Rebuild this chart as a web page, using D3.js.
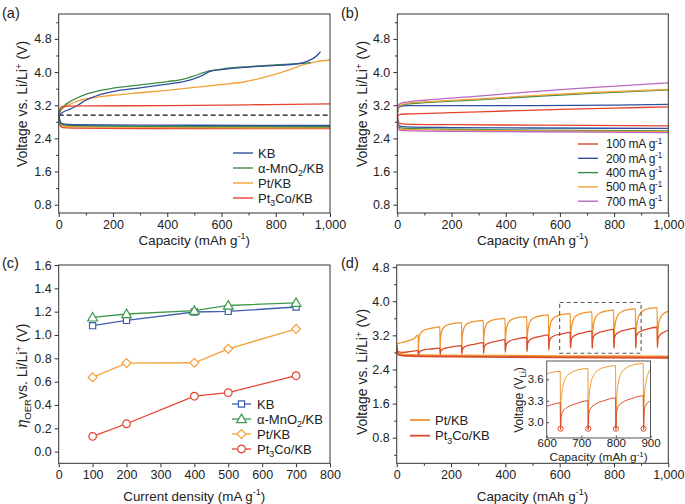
<!DOCTYPE html>
<html><head><meta charset="utf-8">
<script src="https://cdn.jsdelivr.net/npm/d3@7"></script>
<style>
body{margin:0;background:#fff}
svg text{font-family:"Liberation Sans",Arial,Helvetica,sans-serif;fill:#222}
</style>
</head><body>
<svg id="fig" width="685" height="504"></svg>
<script>
// ---------------- DATA ----------------
const capTicks=[0,200,400,600,800,1000];
const capMinor=[100,300,500,700,900];
const voltTicks=[0.8,1.6,2.4,3.2,4.0,4.8];
const voltMinorA=[1.2,2.0,2.8,3.6,4.4,5.2];
const voltMinorD=[0.4,1.2,2.0,2.8,3.6,4.4];
const etaTicks=[0,0.2,0.4,0.6,0.8,1.0,1.2,1.4,1.6];
const currentTicks=[0,100,200,300,400,500,600,700,800];
const insetXTicks=[600,700,800,900];
const insetYTicks=[3.0,3.3,3.6];

// panel (a)
const aLabels=["KB","α-MnO_{2}/KB","Pt/KB","Pt_{3}Co/KB"];
const aKBCharge=[[0,2.92],[5,2.97],[15,3.03],[40,3.1],[70,3.2],[100,3.32],[150,3.45],[200,3.53],[300,3.62],[400,3.71],[460,3.77],[500,3.84],[530,3.92],[560,4.02],[600,4.06],[700,4.12],[800,4.16],[880,4.2],[920,4.27],[945,4.36],[965,4.49]];
const aKBDischarge=[[0,3.02],[2,2.9],[6,2.8],[15,2.75],[50,2.73],[300,2.72],[1000,2.71]];
const aMnCharge=[[0,2.95],[5,3.05],[15,3.15],[40,3.28],[70,3.38],[100,3.46],[150,3.55],[200,3.61],[300,3.69],[400,3.77],[460,3.83],[500,3.91],[540,4.0],[570,4.04],[600,4.07],[700,4.13],[800,4.17],[900,4.21],[930,4.23]];
const aMnDischarge=[[0,3.0],[2,2.88],[6,2.78],[15,2.73],[50,2.71],[300,2.69],[1000,2.68]];
const aPtCharge=[[0,2.95],[5,3.05],[15,3.12],[40,3.22],[70,3.3],[100,3.35],[150,3.4],[200,3.44],[300,3.5],[400,3.56],[500,3.63],[600,3.7],[680,3.76],[750,3.86],[800,3.95],[850,4.05],[900,4.17],[950,4.25],[1000,4.29]];
const aPtDischarge=[[0,3.0],[2,2.85],[6,2.75],[15,2.7],[50,2.68],[300,2.665],[1000,2.655]];
const aPtCoCharge=[[0,2.95],[3,3.08],[8,3.15],[20,3.18],[100,3.185],[400,3.19],[700,3.21],[1000,3.23]];
const aPtCoDischarge=[[0,3.0],[2,2.8],[6,2.7],[15,2.66],[50,2.65],[300,2.64],[1000,2.64]];
const aRefVoltage=2.96;

// panel (b)
const bLabels=["100 mA g^{-1}","200 mA g^{-1}","400 mA g^{-1}","500 mA g^{-1}","700 mA g^{-1}"];
const b100Charge=[[0,2.9],[3,2.95],[10,2.98],[50,2.99],[200,3.02],[400,3.06],[600,3.1],[800,3.13],[1000,3.16]];
const b100Discharge=[[0,3.0],[2,2.85],[8,2.77],[30,2.745],[200,2.73],[500,2.72],[1000,2.70]];
const b200Charge=[[0,2.95],[3,3.1],[10,3.17],[40,3.19],[200,3.19],[500,3.19],[800,3.2],[1000,3.22]];
const b200Discharge=[[0,3.0],[2,2.8],[8,2.7],[30,2.675],[200,2.66],[500,2.65],[1000,2.64]];
const b400Charge=[[0,3.0],[3,3.12],[10,3.18],[40,3.23],[100,3.26],[300,3.33],[500,3.41],[700,3.48],[1000,3.57]];
const b400Discharge=[[0,3.0],[2,2.75],[8,2.66],[30,2.64],[200,2.62],[500,2.6],[1000,2.58]];
const b500Charge=[[0,3.0],[3,3.13],[10,3.2],[40,3.25],[100,3.28],[300,3.35],[500,3.43],[700,3.5],[1000,3.58]];
const b500Discharge=[[0,3.0],[2,2.72],[8,2.63],[30,2.615],[200,2.6],[500,2.58],[1000,2.56]];
const b700Charge=[[0,3.05],[3,3.17],[10,3.24],[40,3.28],[100,3.32],[300,3.42],[500,3.53],[700,3.62],[1000,3.74]];
const b700Discharge=[[0,3.0],[2,2.7],[8,2.6],[30,2.585],[200,2.57],[500,2.56],[1000,2.54]];

// panel (c)
const cCurrent=[100,200,400,500,700];
const cKB=[1.08,1.125,1.197,1.202,1.24];
const cMn=[1.151,1.18,1.208,1.253,1.276];
const cPt=[0.637,0.759,0.762,0.881,1.052];
const cPtCo=[0.131,0.239,0.475,0.506,0.651];

// panel (d)
const dLabels=["Pt/KB","Pt_{3}Co/KB"];
const dPtCharge=[[0,3.0],[10,3.02],[30,3.05],[50,3.09],[65,3.13],[79,3.21],[80,2.78],
[81,3.05],[83,3.15],[87,3.24],[95,3.3],[110,3.34],[130,3.37],[159,3.40],[160,2.8],
[161,3.1],[163,3.22],[167,3.32],[175,3.4],[190,3.45],[210,3.48],[239,3.50],[240,2.82],
[241,3.12],[243,3.25],[247,3.36],[255,3.45],[270,3.5],[290,3.53],[319,3.55],[320,2.84],
[321,3.15],[323,3.28],[327,3.4],[335,3.5],[350,3.55],[370,3.58],[399,3.60],[400,2.85],
[401,3.15],[403,3.3],[407,3.43],[415,3.53],[430,3.59],[450,3.62],[479,3.64],[480,2.86],
[481,3.17],[483,3.32],[487,3.46],[495,3.56],[510,3.62],[530,3.66],[559,3.68],[560,2.88],
[561,3.18],[563,3.34],[567,3.48],[575,3.59],[590,3.65],[610,3.69],[639,3.71],[640,2.9],
[641,3.2],[643,3.36],[647,3.5],[655,3.62],[670,3.69],[690,3.73],[719,3.75],[720,2.9],
[721,3.2],[723,3.38],[727,3.53],[735,3.65],[750,3.73],[770,3.77],[799,3.79],[800,2.9],
[801,3.2],[803,3.4],[807,3.55],[815,3.68],[830,3.76],[850,3.8],[879,3.82],[880,2.9],
[881,3.2],[883,3.4],[887,3.56],[895,3.7],[910,3.79],[930,3.83],[959,3.85],[960,2.92],
[961,3.2],[963,3.4],[967,3.55],[975,3.66],[990,3.74],[1000,3.77]];
const dPtCoCharge=[[0,2.83],[20,2.8],[40,2.81],[60,2.83],[79,2.85],[80,2.74],
[82,2.79],[88,2.83],[100,2.86],[125,2.88],[159,2.9],[160,2.75],
[162,2.82],[168,2.87],[180,2.9],[205,2.93],[239,2.96],[240,2.76],
[242,2.86],[248,2.92],[260,2.96],[285,2.99],[319,3.03],[320,2.78],
[322,2.92],[328,2.98],[340,3.02],[365,3.06],[399,3.10],[400,2.8],
[402,2.96],[408,3.03],[420,3.08],[445,3.12],[479,3.15],[480,2.82],
[482,3.0],[488,3.08],[500,3.13],[525,3.17],[559,3.21],[560,2.86],
[562,3.05],[568,3.14],[580,3.19],[605,3.23],[639,3.27],[640,2.9],
[642,3.08],[648,3.16],[660,3.21],[685,3.26],[719,3.3],[720,2.9],
[722,3.12],[728,3.2],[740,3.25],[765,3.3],[799,3.34],[800,2.9],
[802,3.15],[808,3.23],[820,3.28],[845,3.33],[879,3.37],[880,2.9],
[882,3.17],[888,3.25],[900,3.3],[925,3.35],[959,3.39],[960,2.92],
[962,3.12],[968,3.2],[980,3.26],[1000,3.32]];
const dPtDischarge=[[0,3.0],[2,2.85],[8,2.78],[30,2.75],[200,2.73],[600,2.715],[1000,2.705]];
const dPtCoDischarge=[[0,2.95],[2,2.8],[8,2.74],[30,2.72],[200,2.7],[600,2.685],[1000,2.675]];
const dZoomBox=[600,900,2.78,3.97];
const dInsetDips=[[640,2.91],[720,2.91],[800,2.91],[880,2.91]];

// ---------------- STYLE ----------------
const C={blue:"#2f4f9f",green:"#3b8c47",orange:"#f2a23a",red:"#e4432e",purple:"#b968c2",
  dOrange:"#ef9630",dRed:"#dc4a2c",
  cBlue:"#3e5fae",cGreen:"#3d9a4b",cOrange:"#f5a23c",cRed:"#e6432f"};
const TICK_FS=12.5, TITLE_FS=13.4, LEG_FS=13;

const svg=d3.select("#fig");

// rich text: _{sub} ^{sup} *{italic}
function rich(sel,str,fs){
  const parts=str.split(/(_\{[^}]*\}|\^\{[^}]*\}|\*\{[^}]*\})/).filter(s=>s.length);
  let shift=0;
  parts.forEach(p=>{
    let t=p,target=0,small=false,it=false;
    if(p.startsWith("_{")){t=p.slice(2,-1);target=fs*0.28;small=true;}
    else if(p.startsWith("^{")){t=p.slice(2,-1);target=-fs*0.38;small=true;}
    else if(p.startsWith("*{")){t=p.slice(2,-1);it=true;}
    const ts=sel.append("tspan").attr("dy",target-shift).text(t);
    if(small) ts.attr("font-size",fs*0.68);
    if(it) ts.attr("font-style","italic").attr("font-family","DejaVu Serif, serif").attr("font-size",fs*1.05);
    shift=target;
  });
  return sel;
}
function label(g,x,y,str,fs,opts={}){
  const t=g.append("text").attr("font-size",fs).attr("text-anchor",opts.anchor||"start");
  if(opts.rotate){t.attr("transform",`translate(${x},${y}) rotate(-90)`);}
  else t.attr("x",x).attr("y",y);
  rich(t,str,fs);
  return t;
}

function panel(p){
  const g=svg.append("g").attr("transform",`translate(${p.left},${p.top})`);
  const w=p.right-p.left,h=p.bottom-p.top;
  const x=d3.scaleLinear().domain(p.xd).range([0,w]);
  const y=d3.scaleLinear().domain(p.yd).range([h,0]);
  const id="clip"+p.name;
  g.append("clipPath").attr("id",id).append("rect").attr("width",w).attr("height",h);
  const style=a=>{a.select(".domain").remove();a.selectAll("line").attr("stroke","#333");
    a.selectAll("text").attr("font-size",TICK_FS).attr("fill","#222").attr("font-family",null);};
  g.append("g").call(d3.axisLeft(y).tickValues(p.yt).tickSize(4).tickPadding(3).tickFormat(p.yf)).call(style);
  if(p.ym) g.append("g").call(d3.axisLeft(y).tickValues(p.ym).tickSize(2.5).tickFormat("")).call(style);
  g.append("g").attr("transform",`translate(0,${h})`).call(d3.axisBottom(x).tickValues(p.xt).tickSize(4).tickPadding(3).tickFormat(p.xf)).call(style);
  if(p.xm) g.append("g").attr("transform",`translate(0,${h})`).call(d3.axisBottom(x).tickValues(p.xm).tickSize(2.5).tickFormat("")).call(style);
  const plot=g.append("g").attr("clip-path",`url(#${id})`);
  g.append("rect").attr("width",w).attr("height",h).attr("fill","none").attr("stroke","#333").attr("stroke-width",1);
  return {g,plot,x,y,w,h};
}
function line(P,data,color,width=1.3){
  const l=d3.line().x(d=>P.x(d[0])).y(d=>P.y(d[1])).curve(d3.curveMonotoneX);
  return P.plot.append("path").datum(data).attr("d",l).attr("fill","none").attr("stroke",color).attr("stroke-width",width).attr("stroke-linejoin","round");
}

const fmt1=d3.format(".1f"), fmtC=d3.format(","), fmt0=d3.format("d");

// ---------------- PANEL A ----------------
const A=panel({name:"a",left:58.7,right:330,top:14,bottom:213,xd:[0,1000],yd:[0.6,5.4],
  xt:capTicks,xm:capMinor,yt:voltTicks,ym:voltMinorA,xf:fmtC,yf:fmt1});
A.plot.append("line").attr("x1",A.x(0)).attr("x2",A.x(1000)).attr("y1",A.y(aRefVoltage)).attr("y2",A.y(aRefVoltage))
  .attr("stroke","#111").attr("stroke-width",1.3).attr("stroke-dasharray","5,3");
const aColors=[C.blue,C.green,C.orange,C.red];
[[aPtCoDischarge,3],[aPtDischarge,2],[aMnDischarge,1],[aKBDischarge,0]].forEach(([d,i])=>line(A,d,aColors[i],1.4));
[[aPtCharge,2],[aMnCharge,1],[aKBCharge,0],[aPtCoCharge,3]].forEach(([d,i])=>line(A,d,aColors[i],1.3));
aLabels.forEach((s,i)=>{
  const yy=153+i*15;
  svg.append("line").attr("x1",233).attr("x2",253).attr("y1",yy).attr("y2",yy).attr("stroke",aColors[i]).attr("stroke-width",1.4);
  label(svg,258,yy+4.6,s,LEG_FS);
});

// ---------------- PANEL B ----------------
const B=panel({name:"b",left:397.3,right:668.3,top:14,bottom:213,xd:[0,1000],yd:[0.6,5.4],
  xt:capTicks,xm:capMinor,yt:voltTicks,ym:voltMinorA,xf:fmtC,yf:fmt1});
const bColors=[C.red,C.blue,C.green,C.orange,C.purple];
const bSeries=[[b100Charge,b100Discharge],[b200Charge,b200Discharge],[b400Charge,b400Discharge],[b500Charge,b500Discharge],[b700Charge,b700Discharge]];
bSeries.forEach((s,i)=>{line(B,s[1],bColors[i],1.3);});
bSeries.forEach((s,i)=>{line(B,s[0],bColors[i],1.3);});
bLabels.forEach((s,i)=>{
  const yy=144+i*14.3;
  svg.append("line").attr("x1",578).attr("x2",598).attr("y1",yy).attr("y2",yy).attr("stroke",bColors[i]).attr("stroke-width",1.4);
  label(svg,606,yy+4.3,s,12).attr("letter-spacing",-0.2);
});

// ---------------- PANEL C ----------------
const Cp=panel({name:"c",left:58.7,right:330,top:265,bottom:463.3,xd:[0,800],yd:[-0.1,1.6],
  xt:currentTicks,yt:etaTicks,xf:fmt0,yf:fmt1});
const cSets=[[cKB,C.cBlue,"square"],[cMn,C.cGreen,"triangle"],[cPt,C.cOrange,"diamond"],[cPtCo,C.cRed,"circle"]];
function marker(g,x,y,type,color){
  let sym,rot=0;
  if(type==="square") sym=d3.symbol(d3.symbolSquare,38);
  else if(type==="triangle") sym=d3.symbol(d3.symbolTriangle,42);
  else if(type==="diamond"){sym=d3.symbol(d3.symbolSquare,40);rot=45;}
  else sym=d3.symbol(d3.symbolCircle,46);
  g.append("path").attr("d",sym()).attr("transform",`translate(${x},${y}) rotate(${rot})`+(type==="triangle"?" translate(0,0.8)":""))
    .attr("fill","#fff").attr("stroke",color).attr("stroke-width",1.2);
}
cSets.forEach(([vals,col,type])=>{
  const pts=cCurrent.map((c,i)=>[c,vals[i]]);
  Cp.plot.append("path").datum(pts).attr("d",d3.line().x(d=>Cp.x(d[0])).y(d=>Cp.y(d[1])))
    .attr("fill","none").attr("stroke",col).attr("stroke-width",1.3);
  pts.forEach(d=>marker(Cp.plot,Cp.x(d[0]),Cp.y(d[1]),type,col));
});
aLabels.forEach((s,i)=>{
  const yy=404+i*15;const [,col,type]=cSets[i];
  svg.append("line").attr("x1",232).attr("x2",251).attr("y1",yy).attr("y2",yy).attr("stroke",col).attr("stroke-width",1.3);
  marker(svg,241.5,yy,type,col);
  label(svg,257,yy+4.6,s,LEG_FS);
});

// ---------------- PANEL D ----------------
const D=panel({name:"d",left:396.7,right:668.3,top:265,bottom:463.3,xd:[0,1000],yd:[0.2,4.85],
  xt:capTicks,xm:capMinor,yt:voltTicks,ym:voltMinorD,xf:fmtC,yf:fmt1});
line(D,dPtDischarge,C.dOrange,1.8);
line(D,dPtCoDischarge,C.dRed,1.8);
line(D,dPtCharge,C.dOrange,1.3);
line(D,dPtCoCharge,C.dRed,1.3);
D.plot.append("rect").attr("x",D.x(dZoomBox[0])).attr("y",D.y(dZoomBox[3]))
  .attr("width",D.x(dZoomBox[1])-D.x(dZoomBox[0])).attr("height",D.y(dZoomBox[2])-D.y(dZoomBox[3]))
  .attr("fill","none").attr("stroke","#555").attr("stroke-width",1.1).attr("stroke-dasharray","4,3");
const dColors=[C.dOrange,C.dRed];
dLabels.forEach((s,i)=>{
  const yy=420+i*15.7;
  svg.append("line").attr("x1",410).attr("x2",430).attr("y1",yy).attr("y2",yy).attr("stroke",dColors[i]).attr("stroke-width",1.8);
  label(svg,435,yy+4.6,s,LEG_FS);
});

// inset
(function(){
  const L=546.7,R=650.5,T=361,Bm=438;
  const g=svg.append("g").attr("transform",`translate(${L},${T})`);
  const w=R-L,h=Bm-T;
  const x=d3.scaleLinear().domain([600,900]).range([0,w]);
  const y=d3.scaleLinear().domain([2.78,3.855]).range([h,0]);
  g.append("rect").attr("x",-1).attr("y",-1).attr("width",w+2).attr("height",h+2).attr("fill","#fff");
  g.append("clipPath").attr("id","clipIn").append("rect").attr("width",w).attr("height",h);
  const pl=g.append("g").attr("clip-path","url(#clipIn)");
  const l=d3.line().x(d=>x(d[0])).y(d=>y(d[1])).curve(d3.curveMonotoneX);
  pl.append("path").datum(dPtCharge).attr("d",l).attr("fill","none").attr("stroke",C.dOrange).attr("stroke-width",1);
  pl.append("path").datum(dPtCoCharge).attr("d",l).attr("fill","none").attr("stroke",C.dRed).attr("stroke-width",1);
  dInsetDips.forEach(d=>pl.append("circle").attr("cx",x(d[0])).attr("cy",y(d[1])).attr("r",2.6).attr("fill","none").attr("stroke",C.dRed).attr("stroke-width",1));
  const style=a=>{a.select(".domain").remove();a.selectAll("line").attr("stroke","#555");
    a.selectAll("text").attr("font-size",11.5).attr("fill","#222").attr("font-family",null);};
  g.append("g").call(d3.axisLeft(y).tickValues(insetYTicks).tickSize(-2.5).tickPadding(3).tickFormat(fmt1)).call(style);
  g.append("g").attr("transform",`translate(0,${h})`).call(d3.axisBottom(x).tickValues(insetXTicks).tickSize(-2.5).tickPadding(1).tickFormat(fmt0)).call(style);
  g.append("rect").attr("width",w).attr("height",h).attr("fill","none").attr("stroke","#555").attr("stroke-width",1);
  label(svg,598.6,461,"Capacity (mAh g^{-1})",11.8,{anchor:"middle"});
  label(svg,523,400,"Voltage (V_{Li})",12,{anchor:"middle",rotate:true});
})();

// ---------------- TITLES ----------------
const yT="Voltage vs. Li/Li^{+} (V)";
label(svg,27,104,yT,TITLE_FS+0.6,{anchor:"middle",rotate:true});
label(svg,367,104,yT,TITLE_FS+0.6,{anchor:"middle",rotate:true});
label(svg,367,372,yT,TITLE_FS+0.6,{anchor:"middle",rotate:true});
label(svg,27,376,"*{η}_{OER}vs. Li/Li^{+} (V)",TITLE_FS+0.6,{anchor:"middle",rotate:true});
label(svg,194.3,244.5,"Capacity (mAh g^{-1})",TITLE_FS,{anchor:"middle"});
label(svg,532.8,244.5,"Capacity (mAh g^{-1})",TITLE_FS,{anchor:"middle"});
label(svg,194.3,500.5,"Current density (mA g^{-1})",TITLE_FS,{anchor:"middle"});
label(svg,532.5,500.5,"Capacity (mAh g^{-1})",TITLE_FS,{anchor:"middle"});
label(svg,2,18,"(a)",14.5);
label(svg,341,18,"(b)",14.5);
label(svg,2,268,"(c)",14.5);
label(svg,341,268,"(d)",14.5);
</script>
</body></html>
